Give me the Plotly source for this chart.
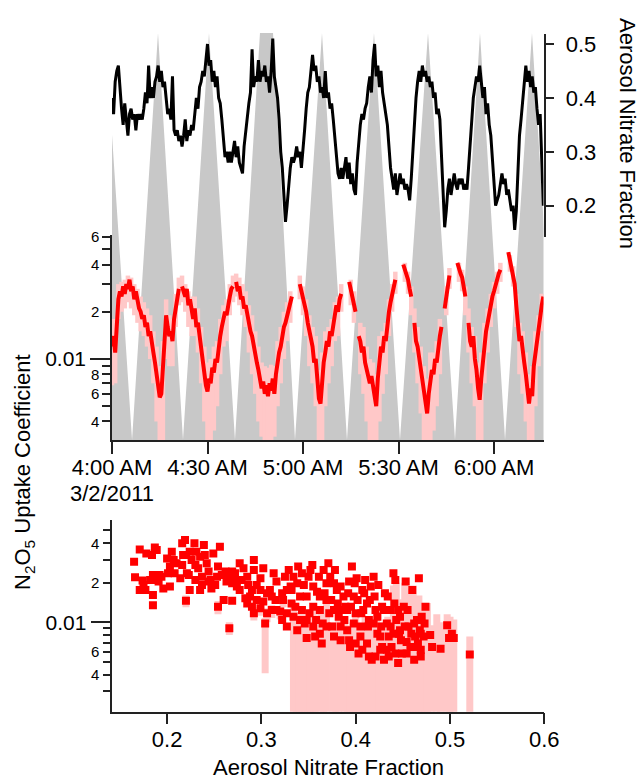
import math
import pandas as pd
import plotly.graph_objects as go

# ---------------- DATA ----------------
START = "2011-03-02 04:00:00"
X_END = "2011-03-02 06:15:33"

# Aerosol nitrate fraction, 30-s samples from 4:00:00
NITRATE = [
    0.40, 0.37, 0.43, 0.45, 0.46, 0.41, 0.38, 0.35, 0.39, 0.36,
    0.33, 0.37, 0.38, 0.36, 0.37, 0.34, 0.37, 0.36, 0.37, 0.36,
    0.38, 0.41, 0.39, 0.46, 0.40, 0.42, 0.40, 0.43, 0.44, 0.46,
    0.43, 0.45, 0.42, 0.43, 0.40, 0.37, 0.38, 0.36, 0.44, 0.34,
    0.33, 0.34, 0.32, 0.33, 0.31, 0.33, 0.36, 0.32, 0.34, 0.33,
    0.35, 0.34, 0.37, 0.40, 0.38, 0.42, 0.43, 0.45, 0.44, 0.47,
    0.50, 0.46, 0.47, 0.43, 0.45, 0.42, 0.44, 0.40, 0.39, 0.36,
    0.33, 0.29, 0.30, 0.28, 0.30, 0.28, 0.30, 0.32, 0.29, 0.31,
    0.28, 0.27, 0.26, 0.31, 0.34, 0.37, 0.39, 0.41, 0.49, 0.42,
    0.44, 0.43, 0.47, 0.43, 0.45, 0.44, 0.46, 0.43, 0.44, 0.41,
    0.45, 0.51, 0.44, 0.42, 0.40, 0.36, 0.30, 0.27, 0.22, 0.17,
    0.20, 0.24, 0.27, 0.29, 0.28, 0.29, 0.31, 0.29, 0.30, 0.27,
    0.30, 0.34, 0.38, 0.41, 0.42, 0.45, 0.48, 0.45, 0.46, 0.43,
    0.44, 0.41, 0.42, 0.40, 0.45, 0.40, 0.41, 0.38, 0.39, 0.36,
    0.33, 0.30, 0.26, 0.25, 0.27, 0.25, 0.27, 0.29, 0.25, 0.28,
    0.24, 0.26, 0.23, 0.22, 0.28, 0.32, 0.35, 0.37, 0.36, 0.38,
    0.39, 0.42, 0.44, 0.41, 0.47, 0.50, 0.44, 0.46, 0.42, 0.45,
    0.41, 0.39, 0.37, 0.35, 0.31, 0.27, 0.25, 0.23, 0.26, 0.22,
    0.24, 0.26, 0.24, 0.25, 0.23, 0.24, 0.23, 0.21, 0.25, 0.30,
    0.36, 0.40, 0.43, 0.45, 0.43, 0.46, 0.44, 0.45, 0.43, 0.44,
    0.42, 0.43, 0.40, 0.41, 0.37, 0.38, 0.36, 0.30, 0.23, 0.16,
    0.19, 0.23, 0.25, 0.22, 0.24, 0.26, 0.24, 0.23, 0.25, 0.24,
    0.25, 0.23, 0.24, 0.23, 0.27, 0.32, 0.37, 0.40, 0.42, 0.44,
    0.43, 0.46, 0.43, 0.40, 0.42, 0.37, 0.39, 0.35, 0.33, 0.28,
    0.23, 0.20, 0.21, 0.22, 0.24, 0.26, 0.24, 0.25, 0.22, 0.23,
    0.21, 0.19, 0.20, 0.155, 0.19, 0.27, 0.33, 0.36, 0.39, 0.43,
    0.46, 0.43, 0.45, 0.42, 0.44, 0.41, 0.42, 0.38, 0.35, 0.37,
    0.29, 0.20,
]

# N2O5 uptake coefficient, 30-s samples from 4:00:00 (None = no data)
GAMMA = [
    0.012, 0.014, 0.011, 0.016, 0.024, 0.027, 0.025, 0.029, 0.026, 0.030,
    0.028, 0.032, 0.027, 0.029, 0.024, 0.027, 0.023, 0.021, 0.020, 0.018,
    0.019, 0.016, 0.017, 0.014, 0.015, 0.012, 0.011, 0.0095, 0.0080, 0.0065,
    0.0057, 0.0060, 0.0090, 0.013, 0.019, 0.016, 0.014, 0.015, 0.013, 0.018,
    0.021, 0.024, 0.028, None, 0.029, 0.027, 0.025, 0.028, 0.022, 0.024,
    0.020, 0.018, 0.021, 0.016, 0.017, 0.014, 0.012, 0.010, 0.0085, 0.0068,
    0.0062, 0.0075, 0.0070, 0.0088, 0.0082, 0.010, 0.0095, 0.012, 0.014, 0.016,
    0.018, 0.020, 0.019, 0.023, 0.025, 0.028, 0.029, None, 0.031, 0.027,
    0.029, 0.024, 0.025, 0.021, 0.022, 0.019, 0.017, 0.015, 0.014, 0.012,
    0.011, 0.0095, 0.0085, 0.0072, 0.0065, 0.0072, 0.0060, 0.0068, 0.0058, 0.0070,
    0.0063, 0.0075, 0.0060, 0.0080, 0.0095, 0.011, 0.012, 0.014, 0.016, 0.017,
    0.019, 0.021, 0.023, 0.025, None, None, None, None, 0.030, 0.027,
    0.025, 0.023, 0.020, 0.017, 0.015, 0.014, 0.012, 0.0095, 0.010, 0.0075,
    0.0056, 0.0052, 0.0075, 0.0095, 0.011, 0.013, 0.012, 0.015, 0.014, 0.017,
    0.019, 0.022, 0.020, 0.024, 0.026, None, None, None, None, 0.031,
    0.028, 0.025, 0.023, 0.020, None, 0.014, 0.013, 0.011, 0.012, 0.0095,
    0.0085, 0.0075, 0.0070, 0.0078, 0.0065, 0.0057, 0.0050, 0.0075, 0.010, 0.012,
    0.011, 0.014, 0.013, 0.017, 0.020, 0.023, 0.026, 0.030, 0.032, None,
    None, None, None, 0.040, 0.037, 0.034, 0.032, 0.028, 0.025, None,
    0.017, 0.013, 0.012, 0.010, 0.0085, 0.0070, 0.0060, 0.0050, 0.0045, 0.0060,
    0.0075, 0.0085, 0.0080, 0.010, 0.0095, 0.012, 0.014, 0.016, None, 0.021,
    0.025, 0.030, 0.034, None, None, None, None, 0.041, 0.037, 0.035,
    0.033, 0.029, 0.025, None, 0.017, 0.013, 0.012, 0.014, 0.010, 0.0085,
    0.0065, 0.0055, 0.0075, 0.010, 0.013, 0.015, 0.017, 0.020, 0.022, 0.025,
    0.027, 0.030, 0.032, 0.035, 0.037, None, None, None, None, 0.048,
    0.042, 0.037, 0.035, 0.030, 0.022, 0.016, 0.013, 0.014, 0.011, 0.0095,
    0.0080, 0.0060, 0.0052, 0.0065, 0.0058, 0.0090, 0.011, 0.013, 0.015, 0.018,
    0.022, 0.025,
]

# Uncertainty band of the uptake coefficient, 1-min samples from 4:00
BAND_HI = [
    0.018, 0.018, 0.030, 0.031, 0.032, 0.034, 0.033, 0.030, 0.028, 0.025,
    0.023, 0.021, 0.019, 0.015, 0.012, 0.009, 0.013, 0.024, 0.019, 0.018,
    0.026, 0.033, 0.034, 0.030, 0.027, 0.025, 0.025, 0.021, 0.016, 0.012,
    0.0095, 0.010, 0.012, 0.013, 0.018, 0.022, 0.024, 0.030, 0.034, 0.035,
    0.033, 0.030, 0.027, 0.022, 0.019, 0.015, 0.012, 0.0095, 0.0090, 0.0088,
    0.0092, 0.0090, 0.013, 0.016, 0.020, 0.023, 0.027, None, None, 0.034,
    0.029, 0.024, 0.019, 0.016, 0.014, 0.0085, 0.011, 0.015, 0.016, 0.018,
    0.023, 0.025, 0.030, None, None, 0.032, 0.027, None, 0.017, 0.016,
    0.012, 0.010, 0.0095, 0.0080, 0.014, 0.015, 0.017, 0.024, 0.030, 0.036,
    None, None, 0.041, 0.036, 0.029, 0.021, 0.016, 0.012, 0.009, 0.0075,
    0.011, 0.011, 0.013, 0.018, None, 0.029, 0.038, None, None, 0.041,
    0.037, 0.029, 0.021, 0.016, 0.014, 0.0095, 0.011, 0.017, 0.021, 0.026,
    0.031, 0.036, 0.041, None, None, 0.046, 0.039, 0.026, 0.017, 0.015,
    0.011, 0.008, 0.009, 0.015, 0.019, 0.026,
]
BAND_LO = [
    0.0068, 0.007, 0.018, 0.020, 0.021, 0.023, 0.021, 0.019, 0.017, 0.015,
    0.014, 0.012, 0.010, 0.0070, 0.0040, 0.0029, 0.0029, 0.010, 0.009, 0.009,
    0.016, 0.022, 0.023, 0.020, 0.016, 0.014, 0.014, 0.011, 0.0070, 0.0040,
    0.0029, 0.0029, 0.0035, 0.0050, 0.008, 0.012, 0.013, 0.019, 0.023, 0.025,
    0.022, 0.019, 0.016, 0.011, 0.008, 0.006, 0.004, 0.0032, 0.0029, 0.0029,
    0.0029, 0.0032, 0.005, 0.007, 0.010, 0.013, 0.017, None, None, 0.024,
    0.019, 0.014, 0.009, 0.007, 0.005, 0.0029, 0.0029, 0.005, 0.007, 0.009,
    0.013, 0.014, 0.020, None, None, 0.022, 0.017, None, 0.008, 0.006,
    0.004, 0.0029, 0.0029, 0.0029, 0.004, 0.006, 0.008, 0.014, 0.020, 0.026,
    None, None, 0.031, 0.026, 0.019, 0.011, 0.007, 0.0045, 0.0029, 0.0029,
    0.0029, 0.0035, 0.005, 0.008, None, 0.019, 0.028, None, None, 0.031,
    0.027, 0.019, 0.011, 0.007, 0.005, 0.0029, 0.0029, 0.007, 0.011, 0.016,
    0.021, 0.026, 0.031, None, None, 0.036, 0.029, 0.016, 0.008, 0.006,
    0.004, 0.0029, 0.0029, 0.005, 0.009, 0.015,
]

# Grey background signal: vertex times (minutes after 4:00) and relative level
GREY_T = [0, 6.3, 14.45, 22.3, 30.47, 38.64, 46.49, 50.58, 57.49, 65.97,
          73.82, 82.3, 90.47, 99.27, 107.75, 115.6, 123.46, 131.94, 139.8]
GREY_V = [0.75, 0, 1, 0, 1, 0, 1, 1, 0, 1, 0, 1, 0, 1, 0, 1, 0, 1, 0]

# Scatter: aerosol nitrate fraction vs uptake coefficient
SC_X = [
    0.165, 0.171, 0.166, 0.174, 0.171, 0.177, 0.178, 0.184, 0.185, 0.185,
    0.187, 0.189, 0.185, 0.187, 0.192, 0.196, 0.200, 0.203, 0.205, 0.203,
    0.207, 0.210, 0.216, 0.219, 0.217, 0.216, 0.220, 0.221, 0.224, 0.226,
    0.229, 0.231, 0.230, 0.233, 0.235, 0.237, 0.239, 0.240, 0.242, 0.244,
    0.246, 0.247, 0.249, 0.220, 0.235, 0.224, 0.253, 0.254, 0.256, 0.258,
    0.260, 0.263, 0.265, 0.269, 0.269, 0.266, 0.271, 0.272, 0.277, 0.279,
    0.281, 0.283, 0.285, 0.286, 0.288, 0.292, 0.292, 0.290, 0.292, 0.295,
    0.299, 0.299, 0.302, 0.302, 0.304, 0.306, 0.309, 0.311, 0.313, 0.315,
    0.316, 0.320, 0.322, 0.323, 0.325, 0.327, 0.329, 0.331, 0.332, 0.334,
    0.336, 0.338, 0.339, 0.341, 0.343, 0.345, 0.346, 0.348, 0.350, 0.352,
    0.354, 0.355, 0.357, 0.359, 0.361, 0.362, 0.364, 0.366, 0.367, 0.369,
    0.371, 0.372, 0.373, 0.375, 0.377, 0.378, 0.380, 0.382, 0.384, 0.385,
    0.387, 0.389, 0.391, 0.393, 0.394, 0.396, 0.398, 0.400, 0.401, 0.403,
    0.405, 0.407, 0.408, 0.410, 0.412, 0.414, 0.415, 0.417, 0.419, 0.421,
    0.423, 0.424, 0.426, 0.428, 0.430, 0.431, 0.433, 0.435, 0.437, 0.438,
    0.440, 0.442, 0.443, 0.445, 0.446, 0.447, 0.449, 0.451, 0.453, 0.454,
    0.456, 0.458, 0.460, 0.462, 0.463, 0.465, 0.467, 0.468, 0.469, 0.470,
    0.472, 0.474, 0.479, 0.481, 0.490, 0.497, 0.499, 0.502, 0.504, 0.521,
    0.327, 0.332, 0.338, 0.343, 0.348, 0.351, 0.355, 0.358, 0.362, 0.365,
    0.369, 0.374, 0.377, 0.381, 0.384, 0.388, 0.392, 0.395, 0.399, 0.402,
    0.406, 0.409, 0.413, 0.416, 0.420, 0.423, 0.427, 0.430, 0.434, 0.437,
    0.441, 0.445, 0.448, 0.452, 0.455, 0.459, 0.462, 0.466, 0.469, 0.473,
    0.369, 0.377, 0.384, 0.391, 0.398, 0.405, 0.412, 0.419, 0.426, 0.433,
    0.440, 0.447, 0.454, 0.462, 0.469, 0.393, 0.400, 0.407, 0.414, 0.421,
    0.428, 0.435, 0.442, 0.348, 0.355, 0.362, 0.341, 0.334, 0.327, 0.322,
    0.316, 0.311, 0.306, 0.299, 0.295, 0.290, 0.285, 0.277, 0.274, 0.269,
    0.262, 0.254, 0.251, 0.244, 0.237, 0.230, 0.223, 0.214, 0.208, 0.201,
    0.194, 0.191, 0.182, 0.175,
]
SC_Y = [
    0.0289, 0.0358, 0.0220, 0.0208, 0.0176, 0.0176, 0.0334, 0.0325, 0.0161, 0.0135,
    0.0371, 0.0354, 0.0229, 0.0210, 0.0229, 0.0181, 0.0306, 0.0187, 0.0344, 0.0265,
    0.0297, 0.0281, 0.0398, 0.0422, 0.0325, 0.0272, 0.0325, 0.0236, 0.0344, 0.0297,
    0.0398, 0.0344, 0.0272, 0.0257, 0.0315, 0.0222, 0.0386, 0.0325, 0.0281, 0.0243,
    0.0210, 0.0181, 0.0334, 0.0146, 0.0176, 0.0176, 0.0222, 0.0131, 0.0375, 0.0229,
    0.0148, 0.0204, 0.0222, 0.0198, 0.0146, 0.0090, 0.0210, 0.0236, 0.0281, 0.0210,
    0.0257, 0.0152, 0.0222, 0.0192, 0.0157, 0.0297, 0.0250, 0.0131, 0.0117, 0.0192,
    0.0216, 0.0128, 0.0257, 0.0144, 0.0098, 0.0117, 0.0176, 0.0124, 0.0236, 0.0148,
    0.0204, 0.0121, 0.0166, 0.0148, 0.0222, 0.0117, 0.0250, 0.0187, 0.0176, 0.0222,
    0.0131, 0.0087, 0.0265, 0.0157, 0.0124, 0.0192, 0.0098, 0.0076, 0.0222, 0.0250,
    0.0272, 0.0131, 0.0078, 0.0171, 0.0222, 0.0124, 0.0069, 0.0250, 0.0166, 0.0148,
    0.0281, 0.0117, 0.0222, 0.0093, 0.0198, 0.0250, 0.0176, 0.0110, 0.0073, 0.0124,
    0.0157, 0.0131, 0.0087, 0.0204, 0.0065, 0.0265, 0.0157, 0.0117, 0.0216, 0.0058,
    0.0093, 0.0176, 0.0124, 0.0210, 0.0069, 0.0104, 0.0148, 0.0052, 0.0222, 0.0124,
    0.0082, 0.0192, 0.0062, 0.0131, 0.0052, 0.0166, 0.0098, 0.0078, 0.0124, 0.0065,
    0.0236, 0.0210, 0.0104, 0.0049, 0.0082, 0.0110, 0.0058, 0.0131, 0.0204, 0.0071,
    0.0093, 0.0065, 0.0176, 0.0052, 0.0078, 0.0104, 0.0216, 0.0087, 0.0062, 0.0110,
    0.0078, 0.0131, 0.0080, 0.0065, 0.0063, 0.0095, 0.0076, 0.0082, 0.0076, 0.0057,
    0.0176, 0.0139, 0.0198, 0.0236, 0.0157, 0.0117, 0.0187, 0.0104, 0.0157, 0.0098,
    0.0198, 0.0148, 0.0124, 0.0139, 0.0187, 0.0104, 0.0166, 0.0131, 0.0198, 0.0148,
    0.0117, 0.0166, 0.0093, 0.0187, 0.0157, 0.0110, 0.0093, 0.0124, 0.0157, 0.0093,
    0.0139, 0.0124, 0.0073, 0.0093, 0.0124, 0.0082, 0.0098, 0.0069, 0.0082, 0.0098,
    0.0093, 0.0078, 0.0093, 0.0124, 0.0098, 0.0078, 0.0139, 0.0098, 0.0078, 0.0062,
    0.0082, 0.0087, 0.0058, 0.0065, 0.0055, 0.0073, 0.0069, 0.0062, 0.0055, 0.0055,
    0.0065, 0.0055, 0.0058, 0.0104, 0.0093, 0.0082, 0.0104, 0.0110, 0.0093, 0.0104,
    0.0124, 0.0157, 0.0166, 0.0176, 0.0148, 0.0176, 0.0139, 0.0176, 0.0187, 0.0243,
    0.0243, 0.0265, 0.0192, 0.0204, 0.0192, 0.0210, 0.0229, 0.0216, 0.0236, 0.0236,
    0.0222, 0.0204, 0.0210, 0.0192,
]

# Uncertainty bars of the scatter (x, lower, upper)
BAR_X = [0.220, 0.254, 0.266, 0.292, 0.299, 0.304, 0.306, 0.311, 0.320, 0.323,
         0.334, 0.337, 0.340, 0.343, 0.346, 0.349, 0.352, 0.355, 0.357,
         0.363, 0.366, 0.369, 0.376, 0.379, 0.382, 0.388, 0.391, 0.394, 0.397,
         0.400, 0.404, 0.407, 0.410, 0.413, 0.416, 0.419, 0.422, 0.425, 0.428,
         0.431, 0.434, 0.437, 0.440, 0.443, 0.446, 0.449, 0.452, 0.455, 0.458,
         0.461, 0.464, 0.467, 0.470, 0.473, 0.476, 0.480, 0.486, 0.490, 0.497,
         0.500, 0.504, 0.521]
BAR_LO = [0.0130, 0.0115, 0.0080, 0.0103, 0.0112, 0.0041, 0.0100, 0.0108, 0.0105, 0.0130,
          0.0019, 0.0019, 0.0019, 0.0019, 0.0019, 0.0019, 0.0019, 0.0019, 0.0019,
          0.0019, 0.0019, 0.0019, 0.0019, 0.0019, 0.0019, 0.0019, 0.0019, 0.0019, 0.0019,
          0.0019, 0.0019, 0.0019, 0.0019, 0.0019, 0.0019, 0.0019, 0.0019, 0.0019, 0.0019,
          0.0019, 0.0019, 0.0019, 0.0019, 0.0019, 0.0019, 0.0019, 0.0019, 0.0019, 0.0019,
          0.0019, 0.0019, 0.0019, 0.0019, 0.0019, 0.0019, 0.0019, 0.0019, 0.0019, 0.0019,
          0.0019, 0.0019, 0.0019]
BAR_HI = [0.0160, 0.0145, 0.0100, 0.0130, 0.0140, 0.0108, 0.0128, 0.0135, 0.0130, 0.0160,
          0.0140, 0.0120, 0.0095, 0.0130, 0.0110, 0.0100, 0.0125, 0.0140, 0.0090,
          0.0130, 0.0105, 0.0150, 0.0100, 0.0090, 0.0115, 0.0110, 0.0095, 0.0075, 0.0100,
          0.0120, 0.0065, 0.0095, 0.0110, 0.0080, 0.0100, 0.0085, 0.0120, 0.0075, 0.0100,
          0.0090, 0.0110, 0.0080, 0.0190, 0.0200, 0.0150, 0.0120, 0.0200, 0.0140, 0.0180,
          0.0190, 0.0120, 0.0160, 0.0130, 0.0140, 0.0140, 0.0095, 0.0115, 0.0100, 0.0115,
          0.0110, 0.0105, 0.0078]

# Axis ticks
TIME_TICKS = ["2011-03-02 04:00", "2011-03-02 04:30", "2011-03-02 05:00",
              "2011-03-02 05:30", "2011-03-02 06:00"]
TIME_LABELS = ["4:00 AM", "4:30 AM", "5:00 AM", "5:30 AM", "6:00 AM"]
DATE_LABEL = "3/2/2011"
NIT_TICKS = [0.2, 0.3, 0.4, 0.5]
FRAC_TICKS = [0.2, 0.3, 0.4, 0.5, 0.6]
TOP_MINOR = [0.004, 0.005, 0.006, 0.007, 0.008, 0.009, 0.02, 0.03, 0.04, 0.05, 0.06]
TOP_MINOR_LABELS = [(0.06, "6"), (0.04, "4"), (0.02, "2"), (0.008, "8"), (0.006, "6"), (0.004, "4")]
BOT_MINOR = [0.002, 0.003, 0.004, 0.005, 0.006, 0.007, 0.008, 0.009, 0.02, 0.03, 0.04, 0.05, 0.06]
BOT_MINOR_LABELS = [(0.06, "6"), (0.04, "4"), (0.02, "2"), (0.006, "6"), (0.004, "4"), (0.002, "2")]

# ---------------- FIGURE ----------------
W, H = 640, 781
FONT = "Liberation Sans, Arial, sans-serif"
t0 = pd.Timestamp(START)
t30 = [t0 + pd.Timedelta(seconds=30 * i) for i in range(len(NITRATE))]
t60 = [t0 + pd.Timedelta(minutes=i) for i in range(len(BAND_HI))]
tgrey = [t0 + pd.Timedelta(seconds=round(m * 60)) for m in GREY_T]

def px_x(p):
    return p / W

def px_y(p):
    return 1 - p / H

fig = go.Figure()

# grey background signal
fig.add_trace(go.Scatter(x=tgrey, y=GREY_V, xaxis="x", yaxis="y", mode="lines",
                         line=dict(width=0, color="#c8c8c8"), fill="tozeroy",
                         fillcolor="#c8c8c8", hoverinfo="skip", showlegend=False))

# uncertainty band (pink)
band_minus = [(h - l) if (h is not None and l is not None) else 0 for h, l in zip(BAND_HI, BAND_LO)]
fig.add_trace(go.Scatter(x=t60, y=BAND_HI, xaxis="x", yaxis="y2", mode="markers",
                         marker=dict(size=1, opacity=0),
                         error_y=dict(type="data", symmetric=False,
                                      array=[0] * len(BAND_HI), arrayminus=band_minus,
                                      color="#ffc8c8", thickness=4.5, width=0),
                         showlegend=False, hoverinfo="skip"))

# uptake coefficient time series
fig.add_trace(go.Scatter(x=t30, y=GAMMA, xaxis="x", yaxis="y2", mode="lines",
                         line=dict(color="#ff0000", width=4), connectgaps=False,
                         showlegend=False))

# nitrate fraction time series
fig.add_trace(go.Scatter(x=t30, y=NITRATE, xaxis="x", yaxis="y3", mode="lines",
                         line=dict(color="#000000", width=3), showlegend=False))

# scatter error bars
fig.add_trace(go.Scatter(x=BAR_X, y=BAR_HI, xaxis="x2", yaxis="y4", mode="markers",
                         marker=dict(size=1, opacity=0),
                         error_y=dict(type="data", symmetric=False,
                                      array=[0] * len(BAR_HI),
                                      arrayminus=[h - l for h, l in zip(BAR_HI, BAR_LO)],
                                      color="#ffc8c8", thickness=7, width=0),
                         showlegend=False, hoverinfo="skip"))
fig.add_trace(go.Scatter(x=SC_X, y=SC_Y, xaxis="x2", yaxis="y4", mode="markers",
                         marker=dict(symbol="square", size=8, color="#ff0000",
                                     line=dict(width=0)),
                         showlegend=False))

axis_common = dict(showgrid=False, zeroline=False, showline=True, linecolor="#222222",
                   linewidth=1.5, ticks="outside", tickcolor="#222222", tickwidth=1.5,
                   automargin=False,
                   tickfont=dict(family=FONT, size=22, color="black"))

XDOM = [px_x(112), px_x(543.5)]
fig.update_layout(
    width=W, height=H, autosize=False,
    margin=dict(l=0, r=0, t=0, b=0, pad=0, autoexpand=False),
    paper_bgcolor="white", plot_bgcolor="rgba(0,0,0,0)",
    font=dict(family=FONT, color="black"),
    xaxis=dict(axis_common, domain=XDOM, anchor="y2", type="date",
               range=[START, X_END], tickmode="array", tickvals=TIME_TICKS,
               ticktext=TIME_LABELS, ticklen=12, ticklabelstandoff=-5,
               tickfont=dict(family=FONT, size=22, color="black")),
    yaxis=dict(domain=[px_y(440), px_y(33)], range=[0, 1], visible=False,
               anchor="x", fixedrange=True),
    yaxis2=dict(axis_common, domain=[px_y(440), px_y(235)], anchor="x", type="log",
                range=[-2.516, -1.210], tickmode="array", tickvals=[0.01],
                ticktext=["0.01"], ticklen=20, tickfont=dict(family=FONT, size=21, color="black"),
                minor=dict(tickmode="array", tickvals=TOP_MINOR, ticks="outside",
                           ticklen=8, tickcolor="#222222", tickwidth=1.5, showgrid=False)),
    yaxis3=dict(axis_common, domain=[px_y(237), px_y(34)], anchor="x", side="right",
                range=[0.1419, 0.5186], tickmode="array", tickvals=NIT_TICKS,
                ticktext=[f"{v:.1f}" for v in NIT_TICKS], ticklen=9, ticklabelstandoff=7),
    xaxis2=dict(axis_common, domain=[px_x(112.3), px_x(544.3)], anchor="y4",
                range=[0.1419, 0.6], tickmode="array", tickvals=FRAC_TICKS,
                ticktext=[f"{v:.1f}" for v in FRAC_TICKS], ticklen=11, ticklabelstandoff=-4),
    yaxis4=dict(axis_common, domain=[px_y(711.7), px_y(520)], anchor="x2", type="log",
                range=[-2.6793, -1.2226], tickmode="array", tickvals=[0.01],
                ticktext=["0.01"], ticklen=20, tickfont=dict(family=FONT, size=21, color="black"),
                minor=dict(tickmode="array", tickvals=BOT_MINOR, ticks="outside",
                           ticklen=8, tickcolor="#222222", tickwidth=1.5, showgrid=False)),
)

def label(x, y, text, size, angle=0, xanchor="center", yref="paper"):
    return dict(x=x, y=y, xref="paper", yref=yref, text=text, showarrow=False,
                xanchor=xanchor, yanchor="middle", textangle=angle,
                font=dict(family=FONT, size=size, color="black"))

ann = []
for v, lab in TOP_MINOR_LABELS:
    ann.append(label(px_x(101), math.log10(v), lab, 15, xanchor="right", yref="y2"))
for v, lab in BOT_MINOR_LABELS:
    ann.append(label(px_x(101), math.log10(v), lab, 15, xanchor="right", yref="y4"))
ann.append(label(px_x(628), px_y(133), "Aerosol Nitrate Fraction", 22, angle=90))
ann.append(label(px_x(24), px_y(472), "N<sub>2</sub>O<sub>5</sub> Uptake Coefficient", 22, angle=-90))
ann.append(label(px_x(328), px_y(767), "Aerosol Nitrate Fraction", 22))
ann.append(label(px_x(112), px_y(493), DATE_LABEL, 22))
fig.update_layout(annotations=ann)

fig.write_html("out.html")
